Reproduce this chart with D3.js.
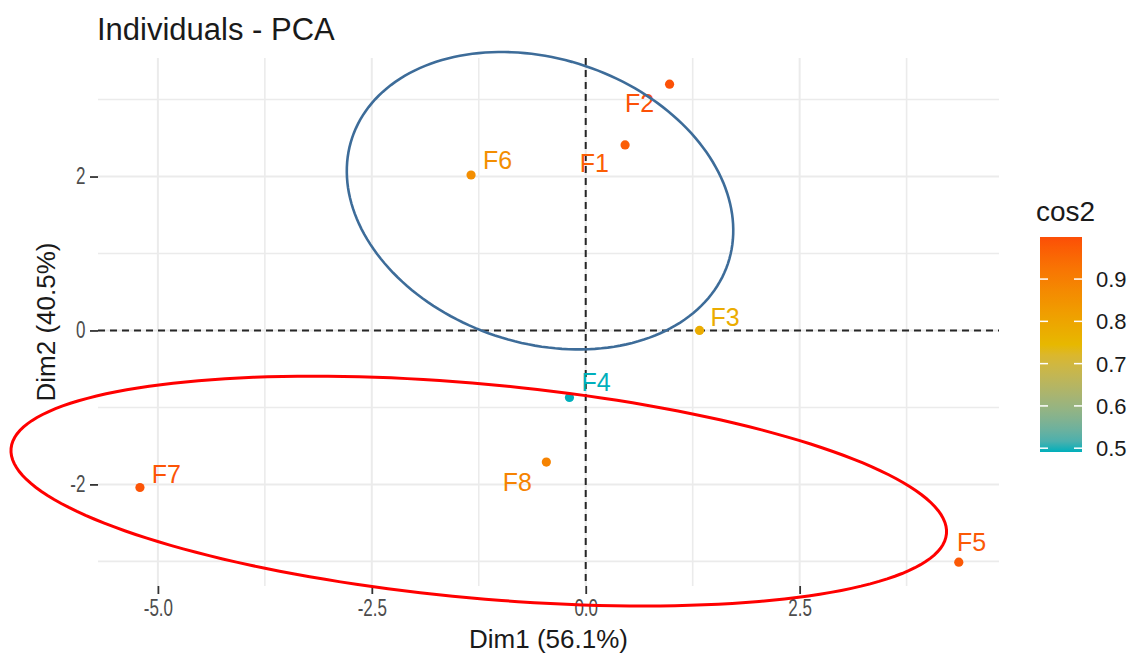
<!DOCTYPE html>
<html>
<head>
<meta charset="utf-8">
<script src="https://cdn.jsdelivr.net/npm/d3@7"></script>
<style>
  body { margin: 0; background: #fff; }
  svg { display: block; font-family: "Liberation Sans", Arial, sans-serif; }
</style>
</head>
<body>
<svg id="chart" width="1130" height="655"></svg>
<script>
'use strict';

// individuals and their coordinates on Dim1 / Dim2
var names = ['F1', 'F2', 'F3', 'F4', 'F5', 'F6', 'F7', 'F8'];
var dim1 = [0.46, 0.98, 1.33, -0.19, 4.36, -1.34, -5.21, -0.46];
var dim2 = [2.41, 3.20, 0.00, -0.87, -3.01, 2.02, -2.04, -1.71];
var cos2 = [0.97, 0.995, 0.78, 0.491, 0.98, 0.86, 0.99, 0.89];

// where ggrepel left the labels (data units)
var labelX = [0.10, 0.63, 1.63, 0.12, 4.51, -1.03, -4.90, -0.80];
var labelY = [2.17, 2.95, 0.17, -0.67, -2.75, 2.21, -1.87, -1.97];

var xTicks = [-5, -2.5, 0, 2.5];
var xMinor = [-3.75, -1.25, 1.25, 3.75];
var yTicks = [-2, 0, 2];
var yMinor = [-3, -1, 1, 3];
var legendTicks = [0.5, 0.6, 0.7, 0.8, 0.9];

var gradientCols = ['#00AFBB', '#E7B800', '#FC4E07'];

// the two hand drawn groups: centre and conjugate semi axes, data units
var ellipses = [
  { cx: -0.534, cy: 1.686, ux: 2.196, uy: -0.817, vx: -0.527, vy: -1.751, color: '#3D6C99', width: 2.6 },
  { cx: -1.25, cy: -2.087, ux: 5.466, uy: -0.555, vx: -0.114, vy: -1.386, color: '#FF0000', width: 3 }
];

var svg = d3.select('#chart');
var panel = { left: 98, right: 999, top: 58, bottom: 586 };

var x = d3.scaleLinear().domain([-5.70, 4.83]).range([panel.left, panel.right]);
var y = d3.scaleLinear().domain([-3.32, 3.54]).range([panel.bottom, panel.top]);

var cosMin = d3.min(cos2), cosMax = 0.9995;
var color = d3.scaleLinear()
  .domain([cosMin, (cosMin + cosMax) / 2, cosMax])
  .range(gradientCols)
  .interpolate(d3.interpolateLab);

// grid
var grid = svg.append('g').attr('class', 'grid');
grid.selectAll('.vminor').data(xMinor).enter().append('line')
  .attr('x1', x).attr('x2', x).attr('y1', panel.top).attr('y2', panel.bottom)
  .attr('stroke', '#EBEBEB').attr('stroke-width', 1.6);
grid.selectAll('.hminor').data(yMinor).enter().append('line')
  .attr('y1', y).attr('y2', y).attr('x1', panel.left).attr('x2', panel.right)
  .attr('stroke', '#EBEBEB').attr('stroke-width', 1.6);
grid.selectAll('.vmajor').data(xTicks).enter().append('line')
  .attr('x1', x).attr('x2', x).attr('y1', panel.top).attr('y2', panel.bottom)
  .attr('stroke', '#EBEBEB').attr('stroke-width', 2);
grid.selectAll('.hmajor').data(yTicks).enter().append('line')
  .attr('y1', y).attr('y2', y).attr('x1', panel.left).attr('x2', panel.right)
  .attr('stroke', '#EBEBEB').attr('stroke-width', 2);

// origin lines
svg.append('line')
  .attr('x1', panel.left).attr('x2', panel.right).attr('y1', y(0)).attr('y2', y(0))
  .attr('stroke', '#262626').attr('stroke-width', 2).attr('stroke-dasharray', '7,5');
svg.append('line')
  .attr('x1', x(0)).attr('x2', x(0)).attr('y1', panel.top).attr('y2', panel.bottom)
  .attr('stroke', '#262626').attr('stroke-width', 2).attr('stroke-dasharray', '7,5');

// axes
var xAxis = svg.append('g')
  .attr('transform', 'translate(0,' + panel.bottom + ')')
  .call(d3.axisBottom(x).tickValues(xTicks).tickSize(8).tickPadding(6)
    .tickFormat(function (d) { return d.toFixed(1); }));
var yAxis = svg.append('g')
  .attr('transform', 'translate(' + panel.left + ',0)')
  .call(d3.axisLeft(y).tickValues(yTicks).tickSize(8).tickPadding(9)
    .tickFormat(function (d) { return String(d); }));

[xAxis, yAxis].forEach(function (ax) {
  ax.select('.domain').remove();
  ax.selectAll('.tick line').attr('stroke', '#333333').attr('stroke-width', 1.8);
  ax.selectAll('.tick text')
    .attr('fill', '#4D4D4D')
    .style('font-size', '23px')
    .style('font-family', '"Liberation Sans", Arial, sans-serif')
    .attr('transform', 'scale(0.74,1)');
});

// points
var idx = d3.range(names.length);
svg.append('g').selectAll('circle').data(idx).enter().append('circle')
  .attr('cx', function (i) { return x(dim1[i]); })
  .attr('cy', function (i) { return y(dim2[i]); })
  .attr('r', 4.6)
  .attr('fill', function (i) { return color(cos2[i]); });

svg.append('g').selectAll('text').data(idx).enter().append('text')
  .attr('x', function (i) { return x(labelX[i]); })
  .attr('y', function (i) { return y(labelY[i]); })
  .attr('dy', '0.36em')
  .attr('text-anchor', 'middle')
  .attr('fill', function (i) { return color(cos2[i]); })
  .style('font-size', '25px')
  .text(function (i) { return names[i]; });

// hand drawn ellipses, not clipped to the panel
var ellipseLine = d3.line().curve(d3.curveLinearClosed);
svg.append('g').selectAll('path').data(ellipses).enter().append('path')
  .attr('d', function (e) {
    var pts = d3.range(0, 360, 2).map(function (deg) {
      var t = deg * Math.PI / 180;
      return [x(e.cx + e.ux * Math.cos(t) + e.vx * Math.sin(t)),
              y(e.cy + e.uy * Math.cos(t) + e.vy * Math.sin(t))];
    });
    return ellipseLine(pts);
  })
  .attr('fill', 'none')
  .attr('stroke', function (e) { return e.color; })
  .attr('stroke-width', function (e) { return e.width; });

// titles
svg.append('text')
  .attr('x', 97).attr('y', 40)
  .attr('fill', '#1A1A1A')
  .style('font-size', '31px')
  .text('Individuals - PCA');

svg.append('text')
  .attr('x', (panel.left + panel.right) / 2).attr('y', 648)
  .attr('text-anchor', 'middle')
  .attr('fill', '#1A1A1A')
  .style('font-size', '26px')
  .text('Dim1 (56.1%)');

svg.append('text')
  .attr('transform', 'translate(55,' + ((panel.top + panel.bottom) / 2) + ') rotate(-90)')
  .attr('text-anchor', 'middle')
  .attr('fill', '#1A1A1A')
  .style('font-size', '26px')
  .text('Dim2 (40.5%)');

// colour bar legend
var bar = { left: 1040, width: 42, top: 237, bottom: 452 };
var lg = d3.scaleLinear().domain([cosMin, cosMax]).range([bar.bottom, bar.top]);

var grad = svg.append('defs').append('linearGradient')
  .attr('id', 'cosGrad').attr('x1', 0).attr('x2', 0).attr('y1', 1).attr('y2', 0);
grad.selectAll('stop').data(d3.range(0, 1.0001, 0.05)).enter().append('stop')
  .attr('offset', function (t) { return t; })
  .attr('stop-color', function (t) { return color(cosMin + t * (cosMax - cosMin)); });

var legend = svg.append('g');
legend.append('text')
  .attr('x', bar.left - 4).attr('y', 221)
  .attr('fill', '#1A1A1A')
  .style('font-size', '28px')
  .text('cos2');
legend.append('rect')
  .attr('x', bar.left).attr('y', bar.top)
  .attr('width', bar.width).attr('height', bar.bottom - bar.top)
  .attr('fill', 'url(#cosGrad)');
legendTicks.forEach(function (v) {
  [[bar.left, bar.left + 8], [bar.left + bar.width - 8, bar.left + bar.width]].forEach(function (seg) {
    legend.append('line')
      .attr('x1', seg[0]).attr('x2', seg[1]).attr('y1', lg(v)).attr('y2', lg(v))
      .attr('stroke', '#FFFFFF').attr('stroke-width', 1.5);
  });
  legend.append('text')
    .attr('x', 1096).attr('y', lg(v)).attr('dy', '0.36em')
    .attr('fill', '#1A1A1A')
    .style('font-size', '22px')
    .text(v.toFixed(1));
});
</script>
</body>
</html>
